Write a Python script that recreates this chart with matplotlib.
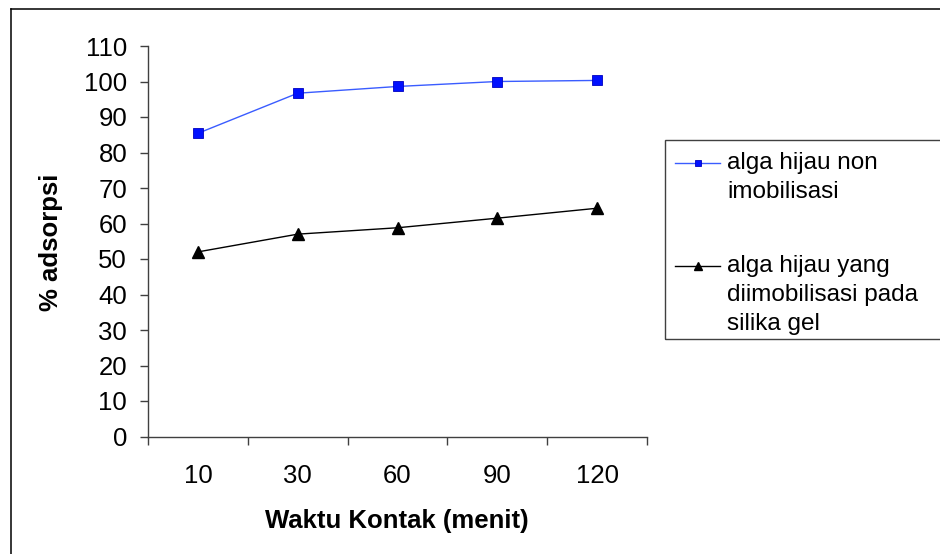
import matplotlib
matplotlib.use("Agg")
import matplotlib.pyplot as plt
from matplotlib.lines import Line2D
from matplotlib.patches import Rectangle

plt.rcParams['font.family'] = ['Liberation Sans', 'DejaVu Sans']

# Contact time categories (minutes)
waktu = ["10", "30", "60", "90", "120"]
# % adsorption for free green algae
non_imobilisasi = [85.4, 96.7, 98.6, 100.0, 100.3]
# % adsorption for green algae immobilised on silica gel
imobilisasi = [52.0, 57.0, 58.8, 61.5, 64.3]

label_non = "alga hijau non\nimobilisasi"
label_imo = "alga hijau yang\ndiimobilisasi pada\nsilika gel"

W, H = 940, 554
fig = plt.figure(figsize=(W / 100, H / 100), dpi=100)
fig.patch.set_facecolor("white")

def fx(px):
    return px / W

def fy(py):
    return 1 - py / H

ax = fig.add_axes([fx(148), fy(436.5), fx(647) - fx(148), fy(46) - fy(436.5)])
ax.set_facecolor("none")

blue_line = dict(color="#3a5cff", lw=1.0)
blue_mark = dict(marker="s", mfc="#0010ff", mec="#0000c0", mew=0.6)
black_line = dict(color="black", lw=1.0)
black_mark = dict(marker="^", mfc="black", mec="black")

pos = [i + 0.5 for i in range(len(waktu))]
ax.plot(pos, non_imobilisasi, ms=6.5, **blue_line, **blue_mark)
ax.plot(pos, imobilisasi, ms=8, **black_line, **black_mark)

ax.set_xlim(0, len(waktu))
ax.set_ylim(0, 110)
ax.set_yticks(range(0, 111, 10))
ax.set_xticks(range(len(waktu) + 1))
ax.set_xticklabels([])
ax.set_xticks(pos, minor=True)
ax.set_xticklabels(waktu, minor=True)
ax.tick_params(axis="x", which="minor", length=0, pad=20, labelsize=18.5)
ax.tick_params(axis="x", which="major", length=6, width=1, color="#404040",
               direction="out")
ax.tick_params(axis="y", length=6, width=1, color="#404040", direction="out",
               pad=9, labelsize=18.5)

for s in ("top", "right"):
    ax.spines[s].set_visible(False)
for s in ("left", "bottom"):
    ax.spines[s].set_color("#404040")
    ax.spines[s].set_linewidth(1.0)

fig.text(fx(51), fy(242), "% adsorpsi", rotation=90, ha="center", va="center",
         fontsize=18.5, fontweight="bold")
fig.text(fx(397), fy(521), "Waktu Kontak (menit)", ha="center", va="center",
         fontsize=18.5, fontweight="bold")

# outer chart frame (runs off the right and bottom edges)
fig.add_artist(Line2D([fx(11), fx(W + 5)], [fy(9), fy(9)], color="black", lw=1.1))
fig.add_artist(Line2D([fx(11), fx(11)], [fy(9), fy(H + 5)], color="black", lw=1.1))

# legend box
fig.add_artist(Rectangle((fx(665), fy(339)), fx(W + 10) - fx(665), fy(140) - fy(339),
                         transform=fig.transFigure, fill=False, ec="#404040", lw=1.0))

entries = [
    (label_non, 163, blue_line, blue_mark, 5),
    (label_imo, 266, black_line, black_mark, 6),
]
for text, y0, line_style, mark_style, ms in entries:
    fig.add_artist(Line2D([fx(675), fx(720)], [fy(y0), fy(y0)], **line_style))
    fig.add_artist(Line2D([fx(697.5)], [fy(y0)], lw=0, ms=ms, **mark_style))
    for i, line in enumerate(text.split("\n")):
        fig.text(fx(727), fy(y0 + i * 29), line, ha="left", va="center",
                 fontsize=17.5)

fig.savefig("out.png", dpi=100, facecolor="white")
